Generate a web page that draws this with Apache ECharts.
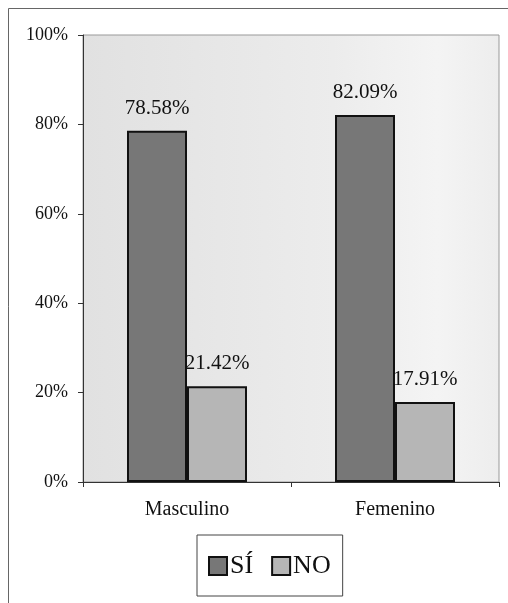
<!DOCTYPE html>
<html>
<head>
<meta charset="utf-8">
<script src="https://cdn.jsdelivr.net/npm/echarts@6/dist/echarts.min.js"></script>
<style>
html,body{margin:0;padding:0;background:#fff;}
#c{width:508px;height:603px;}
</style>
</head>
<body>
<div id="c"></div>
<script>
const categories = ['Masculino', 'Femenino'];
const seriesNames = ['SÍ', 'NO'];
const siValues = [78.58, 82.09];
const noValues = [21.42, 17.91];
const yTicks = [0, 20, 40, 60, 80, 100];

const font = 'Liberation Serif, Times New Roman, serif';
const chart = echarts.init(document.getElementById('c'), null, {renderer: 'canvas'});

function barSeries(name, data, color) {
  return {
    name: name,
    type: 'bar',
    data: data,
    barWidth: 60,
    barGap: '0%',
    itemStyle: {color: color, borderColor: '#111', borderWidth: 2},
    label: {
      show: true,
      position: 'top',
      distance: 12,
      color: '#111',
      fontFamily: font,
      fontSize: 21,
      formatter: p => p.value.toFixed(2) + '%'
    }
  };
}

chart.setOption({
  animation: false,
  backgroundColor: '#fff',
  textStyle: {fontFamily: font},
  graphic: [{
    type: 'rect',
    shape: {x: 8.5, y: 8.5, width: 530, height: 640},
    style: {fill: 'none', stroke: '#666', lineWidth: 1},
    silent: true,
    z: -10
  }],
  grid: {
    left: 83, right: 9, top: 35, bottom: 121,
    show: true,
    backgroundColor: {
      type: 'linear', x: 0, y: 0, x2: 1, y2: 0,
      colorStops: [
        {offset: 0, color: '#e1e1e1'},
        {offset: 0.6, color: '#ececec'},
        {offset: 0.85, color: '#f4f4f4'},
        {offset: 1, color: '#ededed'}
      ]
    },
    borderColor: '#999',
    borderWidth: 1
  },
  legend: {
    data: seriesNames,
    left: 197,
    top: 535,
    width: 150,
    padding: [18, 12, 17, 11],
    borderColor: '#444',
    borderWidth: 1,
    itemWidth: 18,
    itemHeight: 18,
    itemGap: 18,
    icon: 'rect',
    textStyle: {fontFamily: font, fontSize: 26, color: '#111', padding: [2, 0, 0, -2]}
  },
  xAxis: {
    type: 'category',
    data: categories,
    axisLine: {lineStyle: {color: '#333', width: 1}},
    axisTick: {show: true, length: 5, alignWithLabel: false, lineStyle: {color: '#333'}},
    axisLabel: {color: '#111', fontFamily: font, fontSize: 20, margin: 18}
  },
  yAxis: {
    type: 'value',
    min: yTicks[0],
    max: yTicks[yTicks.length - 1],
    interval: yTicks[1] - yTicks[0],
    axisLine: {show: true, lineStyle: {color: '#333', width: 1}},
    axisTick: {show: true, length: 5, lineStyle: {color: '#333'}},
    splitLine: {show: false},
    axisLabel: {color: '#111', fontFamily: font, fontSize: 18, margin: 15, formatter: '{value}%'}
  },
  series: [
    barSeries(seriesNames[0], siValues, '#777777'),
    barSeries(seriesNames[1], noValues, '#b6b6b6')
  ]
});
</script>
</body>
</html>
